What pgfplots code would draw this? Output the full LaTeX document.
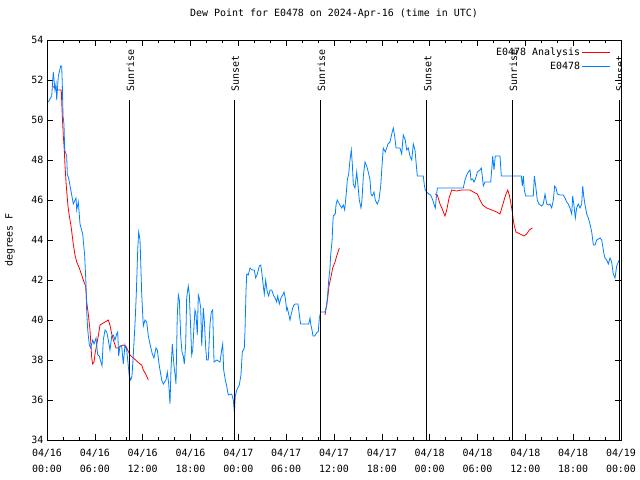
\documentclass[border=0pt]{standalone}
\usepackage{fontspec}
\setmainfont{DejaVu Sans Mono}
\usepackage{pgfplots}
\pgfplotsset{compat=1.18}
\definecolor{obsblue}{RGB}{0,128,255}
\definecolor{anared}{RGB}{255,0,0}
\begin{document}
\fontsize{10}{11.5}\selectfont
\begin{tikzpicture}
\path[use as bounding box] (-47bp,-40bp) rectangle (593bp,440bp);
\begin{axis}[
  at={(0,0)}, anchor=south west,
  scale only axis, width=574bp, height=400bp,
  xmin=0, xmax=72, ymin=34, ymax=54,
  xtick={0,6,...,72}, minor x tick num=2,
  xticklabels={04/16\\00:00,04/16\\06:00,04/16\\12:00,04/16\\18:00,04/17\\00:00,04/17\\06:00,04/17\\12:00,04/17\\18:00,04/18\\00:00,04/18\\06:00,04/18\\12:00,04/18\\18:00,04/19\\00:00},
  xticklabel style={align=center, font=\fontsize{10}{16}\selectfont, yshift=-6bp},
  ytick={34,36,...,54},
  tick align=inside,
  major tick length=6bp, minor tick length=3bp,
  tick style={black, line width=0.6pt},
  axis line style={line width=0.8pt},
  /pgf/number format/assume math mode=true,
  unbounded coords=jump,
  title={Dew Point for E0478 on 2024-Apr-16 (time in UTC)},
  title style={at={(axis description cs:0.5,1)}, anchor=center, yshift=20bp},
  ylabel={degrees F},
  ylabel style={at={(axis description cs:-0.0645,0.5)}, anchor=center},
  legend style={at={(axis description cs:0.9826,0.987)}, anchor=north east, draw=none, fill=none, row sep=1.5bp, inner sep=0pt},
  legend plot pos=right,
  legend cell align=right,
  legend image code/.code={\draw[#1] (0bp,0bp) -- (28bp,0bp);},
]
\addplot[anared, line width=0.8pt] table {
x y
0.71 51.7
1.22 51.5
1.63 51.5
1.79 51.5
1.84 51.0
1.92 50.2
2.04 49.25
2.17 48.5
2.26 47.7
2.42 46.7
2.63 45.7
2.80 45.2
3.01 44.7
3.30 43.8
3.51 43.25
3.73 42.9
4.05 42.6
4.35 42.25
4.64 41.9
4.85 41.7
4.98 40.9
5.18 40.3
5.39 39.5
5.52 38.7
5.61 38.1
5.73 37.8
5.90 37.9
6.02 38.3
6.23 38.75
6.43 39.2
6.65 39.75
6.86 39.8
7.28 39.9
7.69 40.0
7.90 39.75
8.12 39.3
8.32 39.0
8.66 38.6
8.94 38.6
9.24 38.7
9.57 38.75
9.87 38.7
10.12 38.5
10.41 38.25
10.83 38.1
11.25 37.95
11.67 37.8
11.88 37.75
12.08 37.5
12.38 37.3
12.71 37.0
20 nan
34.87 40.25
35.21 41.1
35.37 41.7
35.59 42.1
35.84 42.6
36.13 42.9
36.34 43.2
36.67 43.6
40 nan
48.71 46.3
48.96 46.25
49.30 45.8
49.63 45.5
49.92 45.2
50.14 45.5
50.43 46.1
50.76 46.5
51.39 46.45
52.02 46.5
52.65 46.5
53.06 46.5
53.47 46.4
53.98 46.3
54.31 46.0
54.65 45.75
55.16 45.6
55.78 45.5
56.41 45.4
56.82 45.3
57.16 45.75
57.49 46.2
57.79 46.5
57.99 46.25
58.20 45.8
58.37 45.4
58.49 45.0
58.62 44.7
58.83 44.4
59.33 44.3
59.83 44.2
60.17 44.3
60.50 44.5
60.88 44.6
};
\addlegendentry{E0478 Analysis}
\addplot[obsblue, line width=0.8pt] table {
x y
0.16 50.9
0.59 51.2
0.79 52.4
1.00 51.5
1.13 51.8
1.22 51.0
1.42 52.2
1.72 52.7
1.84 52.7
1.92 51.8
2.01 50.2
2.13 49.8
2.22 48.5
2.47 48.2
2.55 47.3
2.76 47.0
3.10 46.25
3.30 45.8
3.64 46.1
3.73 45.5
3.93 45.9
4.14 44.8
4.48 44.3
4.73 43.2
4.89 41.8
4.98 40.4
5.11 39.5
5.31 38.75
5.48 38.6
5.73 39.0
5.90 38.8
6.15 39.1
6.36 38.25
6.56 38.2
6.90 37.7
7.06 39.0
7.28 39.5
7.49 39.4
7.69 39.0
7.90 38.5
8.12 39.2
8.32 39.25
8.53 39.0
8.74 39.3
8.87 39.4
8.99 38.2
9.16 38.7
9.37 38.7
9.57 37.8
9.78 38.75
10.00 38.5
10.20 37.7
10.32 37.2
10.50 37.0
10.66 37.2
10.83 38.3
11.04 39.8
11.20 41.3
11.38 43.5
11.50 44.4
11.67 44.0
11.88 41.3
12.08 39.7
12.29 40.0
12.51 39.9
12.71 39.2
12.92 38.8
13.21 38.3
13.42 38.1
13.67 38.6
13.84 38.5
14.09 37.7
14.39 37.0
14.59 36.8
14.93 37.0
15.09 37.4
15.27 36.8
15.43 35.8
15.55 37.5
15.72 38.8
15.93 37.7
16.09 37.2
16.18 36.8
16.34 40.2
16.47 41.25
16.60 41.0
16.77 39.2
16.93 38.4
17.10 38.2
17.22 37.8
17.40 38.8
17.52 41.1
17.72 41.7
17.85 41.3
18.03 39.5
18.15 38.25
18.28 38.5
18.44 39.7
18.56 40.5
18.69 40.3
18.85 39.25
18.98 41.25
19.10 41.1
19.28 40.6
19.41 38.7
19.61 40.6
19.73 40.0
19.91 38.6
20.03 38.0
20.23 38.0
20.45 39.8
20.61 40.4
20.78 40.5
20.95 37.9
21.29 38.0
21.70 37.9
21.91 38.5
22.04 38.8
22.16 37.5
22.37 37.0
22.54 36.7
22.74 36.25
23.17 36.3
23.37 36.0
23.50 35.4
23.62 36.2
23.80 36.5
24.12 36.75
24.33 37.25
24.50 38.4
24.75 38.6
24.84 39.5
24.96 41.4
25.05 42.3
25.25 42.25
25.46 42.6
25.75 42.5
26.00 42.5
26.18 42.1
26.38 42.3
26.63 42.7
26.81 42.75
26.97 42.3
27.13 41.7
27.26 41.3
27.43 42.0
27.63 41.4
27.81 41.2
27.97 41.5
28.19 41.5
28.39 41.25
28.60 41.1
28.81 40.9
28.94 41.2
29.14 40.8
29.35 41.1
29.57 41.25
29.73 41.4
29.89 41.1
30.07 40.5
30.14 40.6
30.32 40.3
30.48 40.0
30.61 40.25
30.82 40.6
30.98 40.75
31.15 40.8
31.48 40.8
31.74 40.0
31.82 39.8
32.58 39.8
32.83 39.8
32.99 40.1
33.08 39.8
33.24 39.5
33.37 39.2
33.58 39.2
33.74 39.3
33.91 39.4
34.03 39.4
34.16 40.1
34.33 40.4
34.87 40.4
35.08 40.7
35.21 41.3
35.34 42.0
35.50 42.6
35.59 43.3
35.75 43.9
35.84 44.7
35.91 45.2
36.16 45.3
36.25 45.75
36.41 46.0
36.54 45.9
36.75 45.75
36.97 45.6
37.17 45.75
37.34 45.5
37.51 46.2
37.67 47.0
37.84 47.3
38.01 48.0
38.17 48.5
38.30 47.8
38.42 46.8
38.63 46.6
38.85 47.4
39.01 46.75
39.17 46.0
39.39 45.6
39.51 46.0
39.68 47.2
39.89 47.9
40.10 47.7
40.30 47.4
40.52 47.0
40.64 46.3
40.80 46.2
41.02 46.4
41.18 46.0
41.43 45.8
41.64 46.0
41.86 46.7
42.02 47.7
42.18 48.6
42.43 48.4
42.61 48.6
42.77 48.8
43.02 48.9
43.24 49.3
43.44 49.6
43.61 49.2
43.78 48.6
44.28 48.6
44.49 48.3
44.69 49.25
44.94 49.0
45.12 48.5
45.32 48.6
45.53 48.2
45.75 48.0
45.95 48.8
46.16 48.5
46.29 47.9
46.45 47.2
47.20 47.2
47.33 46.75
47.45 46.5
47.63 46.4
47.88 46.3
48.13 46.25
48.38 46.0
48.58 45.75
48.71 45.6
48.88 46.3
48.96 46.6
52.22 46.6
52.43 47.0
52.65 47.25
52.85 47.4
53.06 47.5
53.19 47.0
53.40 47.05
53.56 46.9
53.78 47.1
53.98 47.4
54.31 47.5
54.48 47.6
54.60 47.2
54.73 46.7
54.94 46.9
55.66 46.9
55.82 47.7
55.91 48.2
56.07 47.5
56.23 48.2
56.82 48.2
56.99 47.2
59.50 47.2
59.62 46.7
59.75 47.2
59.87 46.5
60.05 46.2
61.00 46.2
61.13 47.2
61.30 46.7
61.50 46.0
61.71 45.8
62.05 45.7
62.25 45.8
62.47 46.3
62.68 45.8
62.88 45.75
63.09 45.8
63.31 45.6
63.51 46.0
63.68 46.7
63.85 46.6
64.01 46.3
64.35 46.25
64.76 46.25
64.98 46.1
65.19 45.9
65.39 45.8
65.60 45.6
65.82 45.3
65.94 46.2
66.11 45.7
66.27 45.1
66.44 45.6
66.64 45.8
66.86 45.6
67.07 45.8
67.20 46.7
67.32 46.2
67.49 45.75
67.70 45.3
67.90 45.1
68.11 44.8
68.33 44.4
68.53 43.75
68.74 43.75
68.95 44.0
69.37 44.1
69.58 44.0
69.70 43.7
69.87 43.3
69.99 43.1
70.21 43.0
70.41 42.8
70.62 43.1
70.83 42.9
71.03 42.3
71.25 42.1
71.46 42.7
71.66 42.9
71.79 43.0
};
\addlegendentry{E0478}
\addplot[black, line width=0.8pt, forget plot] coordinates {(10.33,34) (10.33,51.02)};
\addplot[black, line width=0.8pt, forget plot] coordinates {(23.50,34) (23.50,51.02)};
\addplot[black, line width=0.8pt, forget plot] coordinates {(34.29,34) (34.29,51.02)};
\addplot[black, line width=0.8pt, forget plot] coordinates {(47.63,34) (47.63,51.02)};
\addplot[black, line width=0.8pt, forget plot] coordinates {(58.37,34) (58.37,51.02)};
\addplot[black, line width=0.8pt, forget plot] coordinates {(71.75,34) (71.75,51.02)};
\node[rotate=90, anchor=west, inner sep=0pt] at (axis cs:10.45,51.42) {Sunrise};
\node[rotate=90, anchor=west, inner sep=0pt] at (axis cs:23.62,51.42) {Sunset};
\node[rotate=90, anchor=west, inner sep=0pt] at (axis cs:34.41,51.42) {Sunrise};
\node[rotate=90, anchor=west, inner sep=0pt] at (axis cs:47.75,51.42) {Sunset};
\node[rotate=90, anchor=west, inner sep=0pt] at (axis cs:58.49,51.42) {Sunrise};
\node[rotate=90, anchor=west, inner sep=0pt] at (axis cs:71.87,51.42) {Sunset};
\end{axis}
\end{tikzpicture}
\end{document}
